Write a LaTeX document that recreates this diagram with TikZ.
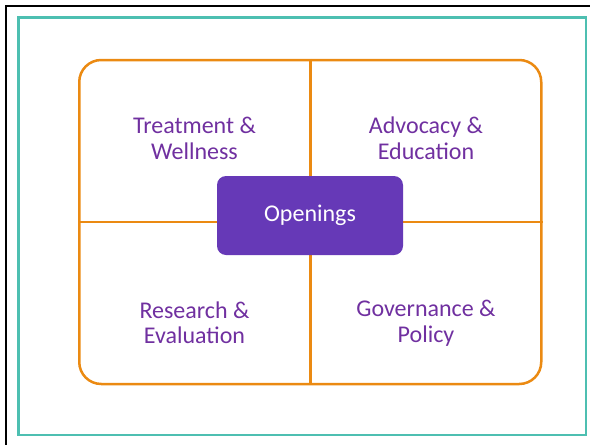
\documentclass[tikz,border=0pt]{standalone}
\usepackage{fontspec}
\setmainfont{Carlito}
\definecolor{quadtext}{HTML}{7030A0}
\definecolor{openfill}{HTML}{6639B7}
\definecolor{gridline}{HTML}{EB8A12}
\definecolor{teal}{HTML}{4DBFB1}

\begin{document}
\begin{tikzpicture}[x=1pt,y=-1pt,
    quadlabel/.style={text=quadtext, align=center, font=\fontsize{24}{25.5}\selectfont},
    openbox/.style={fill=openfill, rounded corners=9pt, minimum width=186pt, minimum height=79pt,
      text=white, font=\fontsize{24}{25.5}\selectfont}]
  \useasboundingbox (0,0) rectangle (590,445);

  % Outer frames
  \draw[line width=2.5pt] (6,450) -- (6,6) -- (595,6);
  \draw[teal, line width=2.2pt] (18.5,17.5) rectangle (586,435);

  % Quadrant grid
  \node[draw=gridline, line width=2.5pt, rounded corners=22pt,
        minimum width=462pt, minimum height=324pt, inner sep=0pt] (grid) at (310.25,222) {};
  \draw[gridline, line width=2.5pt] (grid.north) -- (grid.south);
  \draw[gridline, line width=2.5pt] (grid.west) -- (grid.east);

  % Quadrant labels
  \node[quadlabel] (treat) at (194.5,138.5) {Treatment \&\\Wellness};
  \node[quadlabel] (advoc) at (426,138.5) {Advocacy \&\\Education};
  \node[quadlabel] (resea) at (194.5,323) {Research \&\\Evaluation};
  \node[quadlabel] (gover) at (426,323) {Governance \&\\Policy};

  % Centre box
  \node[openbox] (open) at (310,215.5) {Openings};
\end{tikzpicture}
\end{document}
